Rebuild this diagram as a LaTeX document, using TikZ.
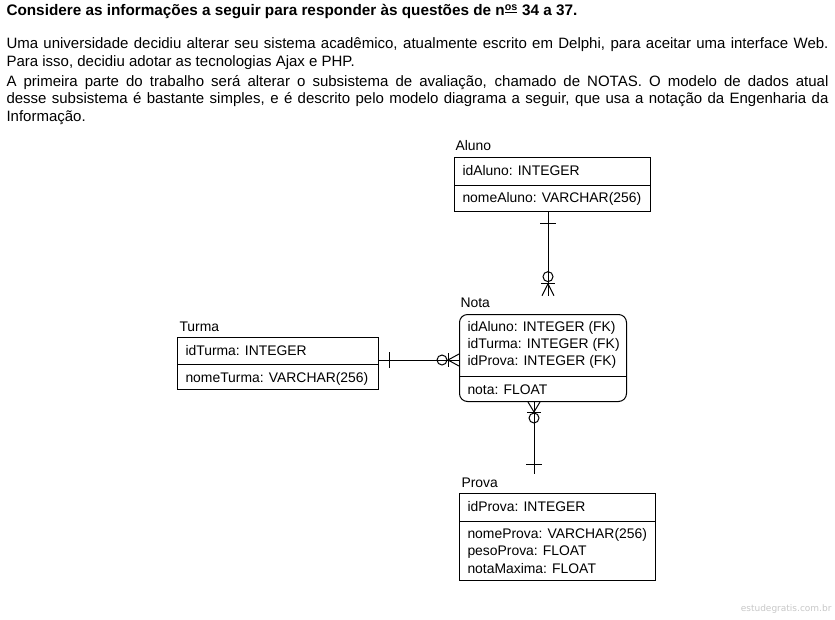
\documentclass[tikz,border=0pt]{standalone}
\usepackage{fontspec}
\setmainfont{Liberation Sans}
\newfontfamily\wmfont{DejaVu Sans}
\usetikzlibrary{positioning, calc}

\begin{document}
\begin{tikzpicture}[
  x=1pt, y=-1pt,
  font=\fontsize{13.9}{17}\selectfont,
  line width=1pt,
  para/.style={anchor=north west, inner sep=0pt, text width=822pt, align=justify, font=\fontsize{15}{17.6}\selectfont},
  ent/.style={draw, anchor=north west, inner sep=0pt},
  lbl/.style={anchor=west, inner sep=0pt},
  row/.style={anchor=west, inner sep=0pt},
  rel/.style={line width=1pt},
]
  \useasboundingbox (0,0) rectangle (835,619);

  % question text
  \node[lbl, font=\bfseries\fontsize{15.3}{17}\selectfont] (title) at (6,12)
    {Considere as informações a seguir para responder às questões de n\textsuperscript{\underline{os}} 34 a 37.};
  \node[para] (intro) at (6,37)
    {Uma universidade decidiu alterar seu sistema acadêmico, atualmente escrito em Delphi, para aceitar uma interface Web.\linebreak
     Para isso, decidiu adotar as tecnologias Ajax e PHP.};
  \node[para] (desc) at (6,74.5)
    {A primeira parte do trabalho será alterar o subsistema de avaliação, chamado de NOTAS. O modelo de dados atual\linebreak
     desse subsistema é bastante simples, e é descrito pelo modelo diagrama a seguir, que usa a notação da Engenharia da\linebreak
     Informação.};

  % Aluno
  \node[lbl] (alunoT) at (455,146) {Aluno};
  \node[ent, minimum width=196pt, minimum height=54pt] (aluno) at (454,157) {};
  \draw ($(aluno.north west)+(0,28)$) -- ($(aluno.north east)+(0,28)$);
  \node[row] (idAluno) at ($(aluno.north west)+(8,14)$) {idAluno: INTEGER};
  \node[row] (nomeAluno) at ($(aluno.north west)+(8,42)$) {nomeAluno: VARCHAR(256)};

  % Nota
  \node[lbl] (notaT) at (460,303) {Nota};
  \node[ent, rounded corners=8pt, minimum width=167pt, minimum height=87pt] (nota) at (459,314) {};
  \draw ($(nota.north west)+(0,62)$) -- ($(nota.north east)+(0,62)$);
  \node[row] (idAlunoFK) at ($(nota.north west)+(8,14)$) {idAluno: INTEGER (FK)};
  \node[row] (idTurmaFK) at ($(nota.north west)+(8,31)$) {idTurma: INTEGER (FK)};
  \node[row] (idProvaFK) at ($(nota.north west)+(8,48)$) {idProva: INTEGER (FK)};
  \node[row] (notaVal) at ($(nota.north west)+(8,76)$) {nota: FLOAT};

  % Turma
  \node[lbl] (turmaT) at (179,327) {Turma};
  \node[ent, minimum width=201pt, minimum height=52pt] (turma) at (177,337) {};
  \draw ($(turma.north west)+(0,27)$) -- ($(turma.north east)+(0,27)$);
  \node[row] (idTurma) at ($(turma.north west)+(8,14)$) {idTurma: INTEGER};
  \node[row] (nomeTurma) at ($(turma.north west)+(8,42)$) {nomeTurma: VARCHAR(256)};

  % Prova
  \node[lbl] (provaT) at (461,483) {Prova};
  \node[ent, minimum width=196pt, minimum height=87pt] (prova) at (459,493) {};
  \draw ($(prova.north west)+(0,28)$) -- ($(prova.north east)+(0,28)$);
  \node[row] (idProva) at ($(prova.north west)+(8,14)$) {idProva: INTEGER};
  \node[row] (nomeProva) at ($(prova.north west)+(8,42)$) {nomeProva: VARCHAR(256)};
  \node[row] (pesoProva) at ($(prova.north west)+(8,59)$) {pesoProva: FLOAT};
  \node[row] (notaMaxima) at ($(prova.north west)+(8,76)$) {notaMaxima: FLOAT};

  % Aluno -- Nota (one to zero-or-many)
  \coordinate (alunoEnd) at ($(aluno.south west)+(94,0)$);
  \coordinate (notaTop) at ($(notaT.north west)+(88,-2)$);
  \draw[rel] (alunoEnd) -- (notaTop);
  \draw[rel] ($(alunoEnd)+(-8,11)$) -- ($(alunoEnd)+(8,11)$);
  \draw[rel] ($(notaTop)+(0,-19)$) circle (5pt);
  \draw[rel] ($(notaTop)+(-7,-12)$) -- ($(notaTop)+(7,-12)$);
  \draw[rel] ($(notaTop)+(-6,0)$) -- ($(notaTop)+(0,-12)$) -- ($(notaTop)+(6,0)$);

  % Turma -- Nota (one to zero-or-many)
  \coordinate (turmaEnd) at ($(turma.north east)+(0,23)$);
  \coordinate (notaLeft) at ($(nota.north west)+(0,46)$);
  \draw[rel] (turmaEnd) -- (notaLeft);
  \draw[rel] ($(turmaEnd)+(10,-8)$) -- ($(turmaEnd)+(10,8)$);
  \draw[rel] ($(notaLeft)+(-17,0)$) circle (5pt);
  \draw[rel] ($(notaLeft)+(-11,-7)$) -- ($(notaLeft)+(-11,7)$);
  \draw[rel] ($(notaLeft)+(0,-6)$) -- ($(notaLeft)+(-11,0)$) -- ($(notaLeft)+(0,6)$);

  % Nota -- Prova (zero-or-many to one)
  \coordinate (notaBot) at ($(nota.south west)+(75,0)$);
  \coordinate (provaTop) at ($(provaT.north west)+(73,-4)$);
  \draw[rel] (notaBot) -- (provaTop);
  \draw[rel] ($(notaBot)+(-6,0)$) -- ($(notaBot)+(0,10)$) -- ($(notaBot)+(6,0)$);
  \draw[rel] ($(notaBot)+(-7,10)$) -- ($(notaBot)+(7,10)$);
  \draw[rel] ($(notaBot)+(0,16)$) circle (5pt);
  \draw[rel] ($(provaTop)+(-8,-9)$) -- ($(provaTop)+(8,-9)$);

  % watermark
  \node[anchor=east, inner sep=0pt, text=black!22, font=\wmfont\fontsize{9}{11}\selectfont] (wm) at (832,609) {estudegratis.com.br};
\end{tikzpicture}
\end{document}
